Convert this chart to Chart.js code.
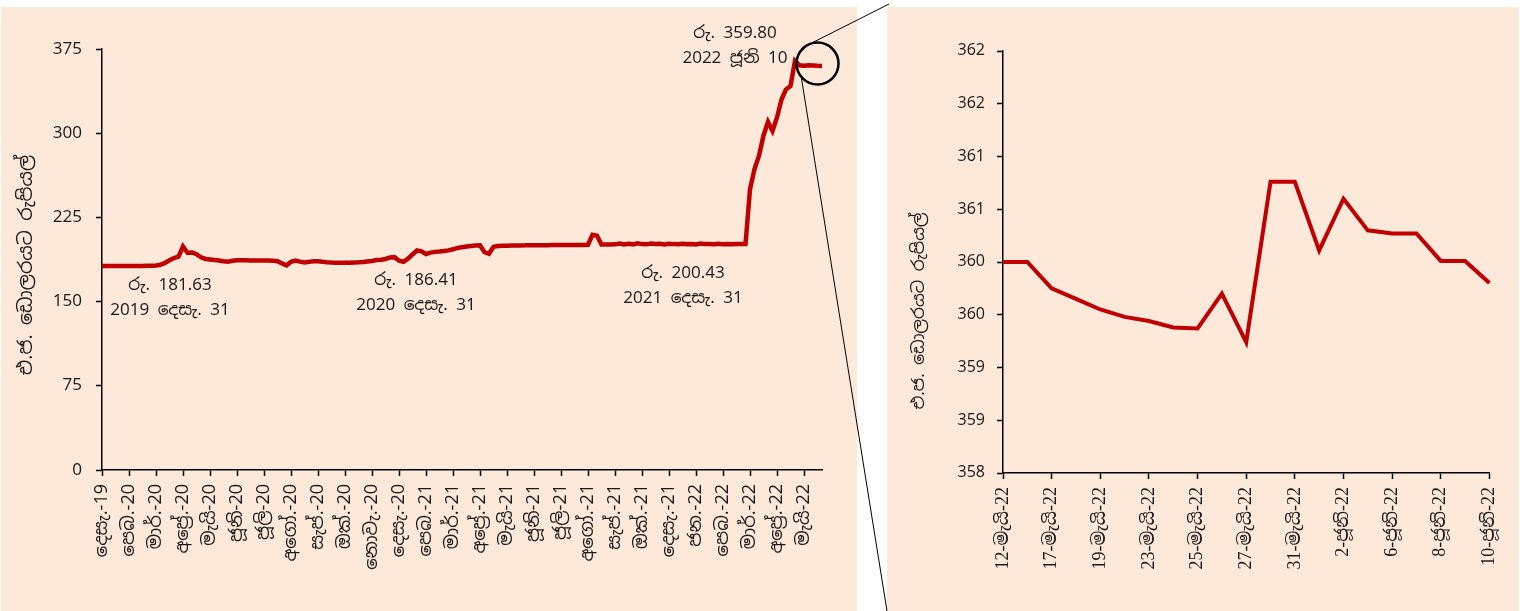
<!DOCTYPE html>
<html>
<head>
<meta charset="utf-8">
<script src="https://cdn.jsdelivr.net/npm/chart.js@4.4.1/dist/chart.umd.min.js"></script>
<style>
  html, body { margin: 0; padding: 0; background: #fff; }
  body { width: 1523px; height: 611px; position: relative; overflow: hidden; }
  .panel { position: absolute; background: #FDE9D9; }
  #leftPanel { left: 1px; top: 7px; width: 856px; height: 604px; }
  #rightPanel { left: 887px; top: 7px; width: 632px; height: 604px; }
  #overlay { position: absolute; left: 0; top: 0; pointer-events: none; }
</style>
</head>
<body>
<div class="panel" id="leftPanel"><canvas id="leftChart"></canvas></div>
<div class="panel" id="rightPanel"><canvas id="rightChart"></canvas></div>
<canvas id="overlay" width="1523" height="611"></canvas>
<script>
const SANS = "'Noto Sans Sinhala', 'Iskoola Pota', 'Nirmala UI', 'Open Sans', sans-serif";
const SERIF = "'Liberation Serif', 'Noto Serif Sinhala', 'Noto Sans Sinhala', serif";

// month tick labels on the long chart (one every 6 points)
const monthLabels = ['දෙසැ.-19','පෙබ.-20','මාර්.-20','අප්‍රේ.-20','මැයි-20','ජූනි-20','ජූලි-20','අගෝ.-20',
  'සැප්.-20','ඔක්.-20','නොවැ.-20','දෙසැ.-20','පෙබ.-21','මාර්.-21','අප්‍රේ.-21','මැයි-21','ජූනි-21',
  'ජූලි-21','අගෝ.-21','සැප්.-21','ඔක්.-21','දෙසැ.-21','ජන.-22','පෙබ.-22','මාර්.-22','අප්‍රේ.-22','මැයි-22'];
const pointsPerTick = 6;

// Rs per US$ (sampled along the line, Dec 2019 - Jun 2022)
const rateValues = [
  181.6,181.6,181.6,181.6,181.6,181.7,181.7,181.7,181.8,181.8,181.9,182.0,182.2,182.8,184.5,186.8,
  188.8,190.0,199.0,193.5,193.8,192.2,189.5,188.0,187.5,187.0,186.6,186.0,185.6,186.4,186.9,186.9,
  186.8,186.7,186.7,186.6,186.6,186.5,186.4,186.0,184.0,182.3,185.5,186.6,185.6,184.9,185.4,186.0,
  186.0,185.5,185.1,184.8,184.6,184.5,184.5,184.6,184.8,185.0,185.3,185.8,186.2,187.0,187.3,188.0,
  189.2,189.6,186.4,185.5,188.2,192.0,195.5,194.8,192.4,193.6,194.3,194.6,195.0,195.6,196.6,197.8,
  198.5,199.0,199.5,199.9,200.2,194.0,192.6,198.8,199.5,199.7,199.8,199.9,200.0,200.0,200.1,200.3,
  200.1,200.2,200.2,200.3,200.4,200.4,200.4,200.5,200.5,200.5,200.5,200.5,200.6,209.5,208.6,200.8,
  200.8,200.9,201.0,201.8,200.9,201.5,201.0,201.9,201.2,201.0,201.7,201.3,201.6,200.9,201.5,201.2,
  201.0,201.6,201.2,201.4,200.9,201.7,201.2,201.3,201.0,201.5,201.1,201.3,201.0,201.4,201.2,201.3,
  250.0,268.0,280.0,298.0,310.0,302.0,314.0,330.0,339.0,342.0,364.5,360.5,360.0,360.6,360.3,360.0,
  359.8
];

// zoomed window: 12 May - 10 Jun 2022
const zoomDates = ['12-මැයි-22','13-මැයි-22','17-මැයි-22','18-මැයි-22','19-මැයි-22','20-මැයි-22',
  '23-මැයි-22','24-මැයි-22','25-මැයි-22','26-මැයි-22','27-මැයි-22','30-මැයි-22','31-මැයි-22',
  '1-ජූනි-22','2-ජූනි-22','3-ජූනි-22','6-ජූනි-22','7-ජූනි-22','8-ජූනි-22','9-ජූනි-22','10-ජූනි-22'];
const zoomValues = [360.00,360.00,359.75,359.65,359.55,359.48,359.44,359.38,359.37,359.70,359.24,
  360.76,360.76,360.11,360.60,360.30,360.27,360.27,360.01,360.01,359.80];

const axisTitle = 'එ.ජ. ඩොලරයට රුපියල්';
const notes = [
  { lines: ['රු. 181.63', '2019 දෙසැ. 31'], x: 169, y: 278 },
  { lines: ['රු. 186.41', '2020 දෙසැ. 31'], x: 415, y: 273 },
  { lines: ['රු. 200.43', '2021 දෙසැ. 31'], x: 682, y: 266 },
  { lines: ['රු. 359.80', '2022 ජූනි 10'], x: 734, y: 26 }
];

const lineRed = '#C00000';

const textPlugin = {
  id: 'texts',
  afterDraw(chart, args, opts) {
    const ctx = chart.ctx;
    ctx.save();
    ctx.fillStyle = '#1a1a1a';
    if (opts.title) {
      const t = opts.title;
      ctx.save();
      ctx.translate(t.x, t.y);
      ctx.rotate(-Math.PI / 2);
      ctx.font = t.font;
      ctx.textAlign = 'center';
      ctx.textBaseline = 'middle';
      ctx.fillText(t.text, 0, 0);
      ctx.restore();
    }
    (opts.notes || []).forEach(n => {
      ctx.font = opts.noteFont;
      ctx.textAlign = 'center';
      ctx.textBaseline = 'middle';
      n.lines.forEach((l, k) => ctx.fillText(l, n.x, n.y + k * 25));
    });
    ctx.restore();
  }
};

// circle round the last weeks + connector lines to the zoom panel
const zoomMarker = {
  id: 'zoomMarker',
  afterDraw(chart) {
    const xs = chart.scales.x, ys = chart.scales.y;
    const canvas = document.getElementById('overlay');
    const c = canvas.getContext('2d');
    c.clearRect(0, 0, canvas.width, canvas.height);
    const offX = 1, offY = 7;
    const cx = xs.getPixelForValue(rateValues.length - 2) + offX;
    const cy = ys.getPixelForValue(362) + offY;
    const r = 21;
    c.strokeStyle = '#000';
    c.lineWidth = 2.5;
    c.beginPath();
    c.arc(cx, cy, r, 0, Math.PI * 2);
    c.stroke();
    c.lineWidth = 1;
    c.beginPath();
    c.moveTo(cx - 5, cy - 21);
    c.lineTo(889, 4);
    c.moveTo(cx - 16, cy + 15);
    c.lineTo(887, 611);
    c.stroke();
  }
};

function keepEvery(n) {
  return scale => { scale.ticks = scale.ticks.filter(t => t.value % n === 0); };
}

new Chart(document.getElementById('leftChart'), {
  type: 'line',
  data: {
    labels: rateValues.map((v, i) => i),
    datasets: [{ data: rateValues, borderColor: lineRed, borderWidth: 4.5, pointRadius: 0, tension: 0, fill: false }]
  },
  options: {
    responsive: true,
    maintainAspectRatio: false,
    animation: false,
    layout: { padding: { top: 42, right: 35, left: 0, bottom: 0 } },
    plugins: {
      legend: { display: false },
      tooltip: { enabled: false },
      texts: {
        title: { text: axisTitle, x: 26, y: 258, font: '19px ' + SANS },
        notes: notes,
        noteFont: '17px ' + SANS
      }
    },
    scales: {
      x: {
        type: 'category',
        afterBuildTicks: keepEvery(pointsPerTick),
        afterFit: s => { s.height = 141; },
        grid: { drawOnChartArea: false, drawTicks: true, tickLength: 6, tickColor: '#000', tickWidth: 1.5 },
        border: { display: true, color: '#000', width: 1.5 },
        ticks: {
          autoSkip: false, maxRotation: 90, minRotation: 90, padding: 8,
          color: '#1a1a1a', font: { family: SANS, size: 18 },
          callback: v => monthLabels[v / pointsPerTick]
        }
      },
      y: {
        min: 0, max: 375,
        afterFit: s => { s.width = 101; },
        grid: { drawOnChartArea: false, drawTicks: true, tickLength: 6, tickColor: '#000', tickWidth: 1.5 },
        border: { display: true, color: '#000', width: 1.5 },
        ticks: { stepSize: 75, padding: 14, color: '#1a1a1a', font: { family: SANS, size: 17 } }
      }
    }
  },
  plugins: [textPlugin, zoomMarker]
});

new Chart(document.getElementById('rightChart'), {
  type: 'line',
  data: {
    labels: zoomDates,
    datasets: [{ data: zoomValues, borderColor: lineRed, borderWidth: 4, pointRadius: 0, tension: 0, fill: false }]
  },
  options: {
    responsive: true,
    maintainAspectRatio: false,
    animation: false,
    layout: { padding: { top: 44, right: 23, left: 0, bottom: 0 } },
    plugins: {
      legend: { display: false },
      tooltip: { enabled: false },
      texts: { title: { text: axisTitle, x: 32, y: 304, font: '17px ' + SANS } }
    },
    scales: {
      x: {
        type: 'category',
        afterBuildTicks: keepEvery(2),
        afterFit: s => { s.height = 138; },
        grid: { drawOnChartArea: false, drawTicks: true, tickLength: 6, tickColor: '#000', tickWidth: 1.5 },
        border: { display: true, color: '#000', width: 1.5 },
        ticks: {
          autoSkip: false, maxRotation: 90, minRotation: 90, padding: 8,
          color: '#1a1a1a', font: { family: SERIF, size: 18 },
          callback: v => zoomDates[v]
        }
      },
      y: {
        min: 358, max: 362,
        afterFit: s => { s.width = 116; },
        grid: { drawOnChartArea: false, drawTicks: true, tickLength: 6, tickColor: '#000', tickWidth: 1.5 },
        border: { display: true, color: '#000', width: 1.5 },
        ticks: { stepSize: 0.5, padding: 12, color: '#1a1a1a', font: { family: SANS, size: 16 },
          callback: v => Math.round(v) }
      }
    }
  },
  plugins: [textPlugin]
});
</script>
</body>
</html>
